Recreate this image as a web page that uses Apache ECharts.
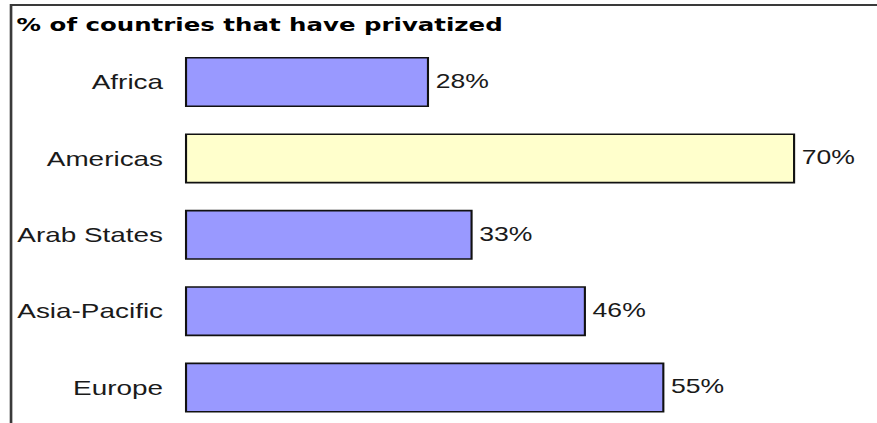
<!DOCTYPE html>
<html>
<head>
<meta charset="utf-8">
<script src="https://cdn.jsdelivr.net/npm/echarts@6/dist/echarts.min.js"></script>
<style>
  html, body { margin: 0; padding: 0; background: #ffffff; overflow: hidden; }
  #chart {
    width: 660px;
    height: 423px;
    transform: scaleX(1.3288);
    transform-origin: 0 0;
  }
</style>
</head>
<body>
<div id="chart"></div>
<script>
// Share of countries in each region that have privatized
const regions = ['Africa', 'Americas', 'Arab States', 'Asia-Pacific', 'Europe'];
const percentPrivatized = [28, 70, 33, 46, 55];
const highlightedRegion = 'Americas';
const titleText = '% of countries that have privatized';

const chart = echarts.init(document.getElementById('chart'), null, { renderer: 'svg' });

const barData = regions.map((name, i) => ({
  value: percentPrivatized[i],
  itemStyle: { color: name === highlightedRegion ? '#FFFFCC' : '#9999FF' }
}));

chart.setOption({
  animation: false,
  backgroundColor: '#ffffff',
  title: {
    text: titleText,
    left: 12.5,
    top: 14.5,
    padding: 0,
    textStyle: {
      fontFamily: '"DejaVu Sans", Verdana, sans-serif',
      fontWeight: 'bold',
      fontSize: 18.4,
      lineHeight: 20,
      color: '#000000'
    }
  },
  graphic: [
    {
      type: 'polyline',
      silent: true,
      shape: { points: [[8.3, 430], [8.3, 5], [680, 5]] },
      style: { stroke: '#3a3a3a', lineWidth: 2, fill: null }
    }
  ],
  grid: {
    left: 139.2,
    width: 459.2,
    top: 43.8,
    height: 382,
    containLabel: false,
    outerBoundsMode: 'none'
  },
  xAxis: {
    type: 'value',
    min: 0,
    max: 70,
    show: false
  },
  yAxis: {
    type: 'category',
    data: regions,
    inverse: true,
    axisLine: { show: false },
    axisTick: { show: false },
    splitLine: { show: false },
    axisLabel: {
      margin: 16.5,
      fontFamily: '"Liberation Sans", Arial, sans-serif',
      fontSize: 21,
      color: '#1a1a1a'
    }
  },
  series: [
    {
      type: 'bar',
      data: barData,
      barWidth: 50,
      itemStyle: { borderColor: '#111111', borderWidth: 1.6 },
      label: {
        show: true,
        position: 'right',
        distance: 5,
        offset: [0, -1],
        formatter: '{c}%',
        fontFamily: '"Liberation Sans", Arial, sans-serif',
        fontSize: 20,
        color: '#1a1a1a'
      }
    }
  ]
});
</script>
</body>
</html>
